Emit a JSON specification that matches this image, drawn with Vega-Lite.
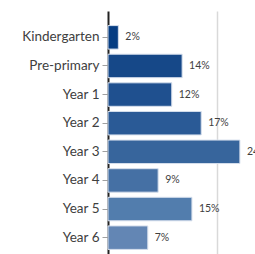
{
  "$schema": "https://vega.github.io/schema/vega-lite/v6.json",
  "autosize": "none",
  "padding": {"left": 108, "top": 11, "right": 0, "bottom": 0},
  "width": 218,
  "height": 253,
  "background": "white",
  "data": {
    "values": [
      {"level": "Kindergarten", "share": 0.019, "label": "2%", "color": "#063d82"},
      {"level": "Pre-primary", "share": 0.136, "label": "14%", "color": "#164888"},
      {"level": "Year 1", "share": 0.117, "label": "12%", "color": "#1f508f"},
      {"level": "Year 2", "share": 0.171, "label": "17%", "color": "#2a5a96"},
      {"level": "Year 3", "share": 0.242, "label": "24%", "color": "#37659c"},
      {"level": "Year 4", "share": 0.092, "label": "9%", "color": "#4570a4"},
      {"level": "Year 5", "share": 0.154, "label": "15%", "color": "#527dad"},
      {"level": "Year 6", "share": 0.073, "label": "7%", "color": "#6386b4"}
    ]
  },
  "encoding": {
    "y": {
      "field": "level",
      "type": "nominal",
      "sort": null,
      "scale": {"paddingInner": 0.18, "paddingOuter": 0.51},
      "axis": {
        "title": null,
        "labelFont": "Lato",
        "labelFontSize": 13.5,
        "labelColor": "#404040",
        "labelPadding": 3,
        "tickColor": "#a0a0a0",
        "tickSize": 6,
        "domainColor": "#222222",
        "domainWidth": 2,
        "grid": false
      }
    },
    "x": {
      "field": "share",
      "type": "quantitative",
      "scale": {"domain": [0, 0.4], "nice": false},
      "axis": {
        "values": [0.2, 0.4],
        "grid": true,
        "gridColor": "#d9d9d9",
        "gridWidth": 1.5,
        "labels": false,
        "ticks": false,
        "domain": false,
        "title": null
      }
    }
  },
  "layer": [
    {
      "mark": {"type": "bar", "stroke": "#d5deec", "strokeWidth": 1},
      "encoding": {
        "color": {"field": "color", "type": "nominal", "scale": null}
      }
    },
    {
      "mark": {"type": "text", "align": "left", "dx": 7, "font": "Lato", "fontSize": 10.5, "color": "#404040"},
      "encoding": {"text": {"field": "label"}}
    }
  ],
  "config": {"view": {"stroke": null}}
}
